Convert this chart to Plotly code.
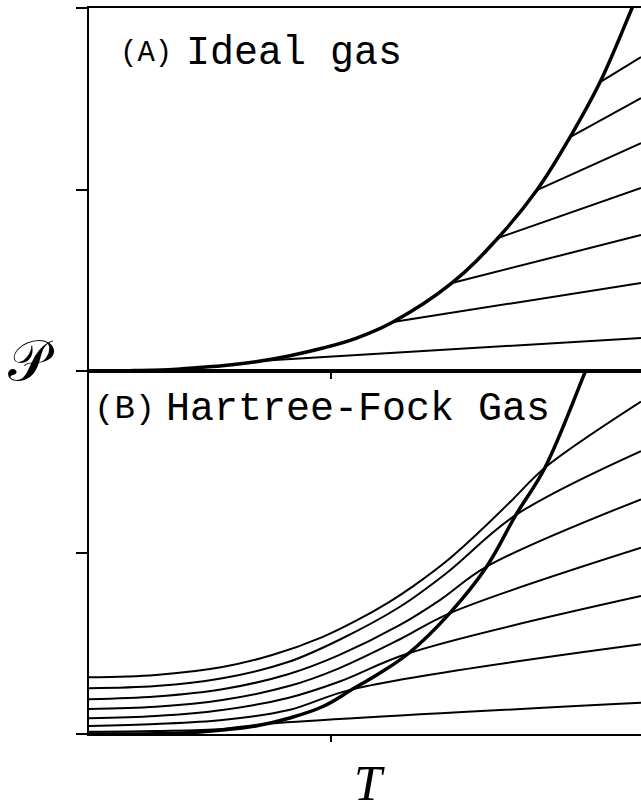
import plotly.graph_objects as go

# ---------------- data ----------------
T_MAX = 2.281

# (A) ideal gas: condensation line
a_curve_T = [0, 0.169, 0.343, 0.413, 0.550, 0.690, 0.826, 0.963, 1.103, 1.256, 1.500, 1.690, 1.851, 1.988, 2.112, 2.244, 2.260]
a_curve_P = [0, 0.002, 0.008, 0.015, 0.029, 0.051, 0.083, 0.125, 0.180, 0.270, 0.485, 0.733, 0.997, 1.289, 1.592, 2.000, 2.050]

# (A) isochores: start on the condensation line, end at T_MAX
a_iso_T0 = [2.112, 1.988, 1.851, 1.690, 1.500, 1.256, 0.716]
a_iso_P0 = [1.592, 1.289, 0.997, 0.733, 0.485, 0.270, 0.057]
a_iso_P1 = [1.730, 1.504, 1.256, 1.008, 0.749, 0.485, 0.182]

# (B) Hartree-Fock gas: condensation line
b_curve_T = [0, 0.276, 0.413, 0.551, 0.689, 0.826, 0.964, 1.088, 1.202, 1.321, 1.490, 1.643, 1.764, 1.884, 2.050, 2.058]
b_curve_P = [0, 0.002, 0.007, 0.022, 0.044, 0.087, 0.150, 0.246, 0.336, 0.445, 0.665, 0.922, 1.207, 1.467, 1.994, 2.017]

# (B) isochores
b_iso_T = [
    [0, 0.276, 0.551, 0.757, 0.964, 1.102, 1.240, 1.340, 1.478, 1.616, 1.753, 1.884, T_MAX],
    [0, 0.276, 0.551, 0.826, 1.033, 1.285, 1.478, 1.764, T_MAX],
    [0, 0.276, 0.551, 0.826, 1.033, 1.285, 1.450, 1.643, T_MAX],
    [0, 0.276, 0.551, 0.826, 1.033, 1.285, 1.490, T_MAX],
    [0, 0.276, 0.551, 0.826, 1.033, 1.321, T_MAX],
    [0, 0.276, 0.551, 0.826, 1.088, T_MAX],
    [0, 0.276, 0.551, 0.720, T_MAX],
]
b_iso_P = [
    [0.312, 0.325, 0.369, 0.435, 0.534, 0.623, 0.727, 0.815, 0.953, 1.118, 1.295, 1.467, 1.831],
    [0.252, 0.264, 0.307, 0.398, 0.518, 0.701, 0.887, 1.207, 1.559],
    [0.191, 0.206, 0.246, 0.331, 0.435, 0.601, 0.738, 0.922, 1.293],
    [0.138, 0.150, 0.187, 0.264, 0.362, 0.522, 0.665, 1.026],
    [0.0865, 0.099, 0.132, 0.200, 0.288, 0.445, 0.760],
    [0.044, 0.055, 0.077, 0.132, 0.246, 0.494],
    [0.013, 0.017, 0.028, 0.054, 0.172],
]

y_ticks = [0, 1, 2]
x_ticks = [1]

# ---------------- figure ----------------
fig = go.Figure()
thin = dict(color="black", width=2)
thick = dict(color="black", width=3.5)

# panel A (upper, axes x2/y2)
for t0, p0, p1 in zip(a_iso_T0, a_iso_P0, a_iso_P1):
    fig.add_trace(go.Scatter(x=[t0, T_MAX], y=[p0, p1], mode="lines", line=thin,
                             xaxis="x2", yaxis="y2", showlegend=False, hoverinfo="skip"))
fig.add_trace(go.Scatter(x=a_curve_T, y=a_curve_P, mode="lines",
                         line=dict(thick, shape="spline", smoothing=1.1),
                         xaxis="x2", yaxis="y2", showlegend=False, hoverinfo="skip"))

# panel B (lower, axes x/y)
for ts, ps in zip(b_iso_T, b_iso_P):
    fig.add_trace(go.Scatter(x=ts, y=ps, mode="lines",
                             line=dict(thin, shape="spline", smoothing=1.0),
                             xaxis="x", yaxis="y", showlegend=False, hoverinfo="skip"))
fig.add_trace(go.Scatter(x=b_curve_T, y=b_curve_P, mode="lines",
                         line=dict(thick, shape="spline", smoothing=1.1),
                         xaxis="x", yaxis="y", showlegend=False, hoverinfo="skip"))

xcommon = dict(range=[0, T_MAX], showgrid=False, zeroline=False, showline=True,
               linecolor="black", linewidth=2, mirror=True,
               tickvals=x_ticks, ticks="outside", ticklen=6, tickwidth=1.5,
               tickcolor="black", showticklabels=False)
ycommon = dict(range=[0, 2], showgrid=False, zeroline=False, showline=True,
               linecolor="black", linewidth=2, mirror=False,
               tickvals=y_ticks, ticks="outside", ticklen=11, tickwidth=2,
               tickcolor="black", showticklabels=False)

fig.update_layout(
    width=641, height=810,
    margin=dict(l=89, r=0, t=8, b=76),
    paper_bgcolor="white", plot_bgcolor="white",
    xaxis=dict(xcommon, anchor="y", domain=[0, 1]),
    yaxis=dict(ycommon, anchor="x", domain=[0, 0.5]),
    xaxis2=dict(xcommon, anchor="y2", domain=[0, 1]),
    yaxis2=dict(ycommon, anchor="x2", domain=[0.5, 1]),
)

mono = "Liberation Mono, Courier New, monospace"
fig.add_annotation(text="(A)", xref="paper", yref="paper", x=(118 - 89) / 552, y=(734 - 53) / 726,
                   xanchor="left", yanchor="middle", showarrow=False,
                   font=dict(family=mono, size=29, color="black"))
fig.add_annotation(text="Ideal gas", xref="paper", yref="paper", x=(184 - 89) / 552, y=(734 - 53) / 726,
                   xanchor="left", yanchor="middle", showarrow=False,
                   font=dict(family=mono, size=40, color="black"))
fig.add_annotation(text="(B)", xref="paper", yref="paper", x=(92 - 89) / 552, y=(734 - 409) / 726,
                   xanchor="left", yanchor="middle", showarrow=False,
                   font=dict(family=mono, size=34, color="black"))
fig.add_annotation(text="Hartree-Fock Gas", xref="paper", yref="paper", x=(164 - 89) / 552, y=(734 - 409) / 726,
                   xanchor="left", yanchor="middle", showarrow=False,
                   font=dict(family=mono, size=40, color="black"))

# axis titles
fig.add_annotation(text="\U0001D4AB", xref="paper", yref="paper", x=(31 - 89) / 552, y=(734 - 360) / 726,
                   xanchor="center", yanchor="middle", showarrow=False,
                   font=dict(family="DejaVu Serif, DejaVu Sans, serif", size=56, color="black"))
fig.add_annotation(text="<i>T</i>", xref="paper", yref="paper", x=(369 - 89) / 552, y=(734 - 783) / 726,
                   xanchor="center", yanchor="middle", showarrow=False,
                   font=dict(family="Liberation Serif, Times New Roman, serif", size=50, color="black"))

fig.write_html("out.html")
